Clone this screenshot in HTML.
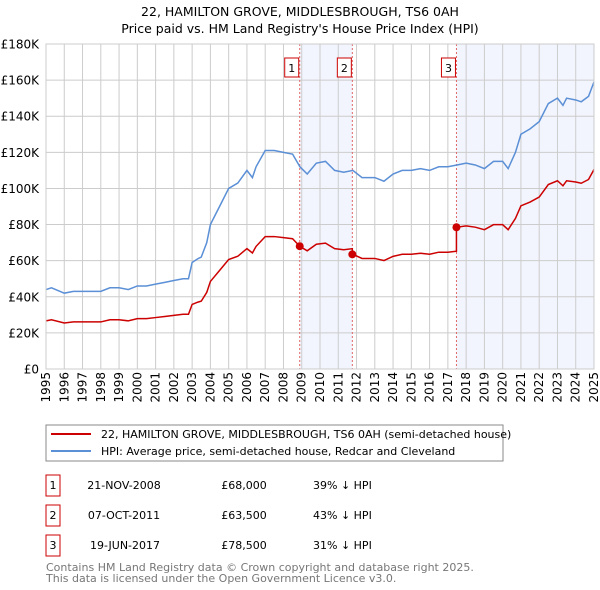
<!DOCTYPE html>
<html><head><meta charset="utf-8"><style>
body{margin:0;background:#fff;font-family:"Liberation Sans","DejaVu Sans",sans-serif;}
svg{display:block}
</style></head><body>
<svg width="600" height="590" xmlns="http://www.w3.org/2000/svg" font-family="'DejaVu Sans','Liberation Sans',sans-serif">
<text x="300" y="16" text-anchor="middle" font-size="12.5">22, HAMILTON GROVE, MIDDLESBROUGH, TS6 0AH</text>
<text x="300" y="33" text-anchor="middle" font-size="12.5">Price paid vs. HM Land Registry's House Price Index (HPI)</text>
<g id="plot"></g>
<g>
<rect x="46" y="425" width="457" height="36" fill="#fff" stroke="#888"/>
<line x1="51" y1="434" x2="91" y2="434" stroke="#cc0000" stroke-width="2"/>
<text x="101" y="438" font-size="11">22, HAMILTON GROVE, MIDDLESBROUGH, TS6 0AH (semi-detached house)</text>
<line x1="51" y1="451" x2="91" y2="451" stroke="#5b8fd6" stroke-width="2"/>
<text x="101" y="455" font-size="11">HPI: Average price, semi-detached house, Redcar and Cleveland</text>
</g>
<g font-size="11">
<rect x="46" y="475" width="14" height="21" fill="none" stroke="#cc0000"/><text x="53" y="489" text-anchor="middle">1</text>
<text x="124" y="489" text-anchor="middle">21-NOV-2008</text><text x="244" y="489" text-anchor="middle">£68,000</text><text x="313" y="489">39% ↓ HPI</text>
<rect x="46" y="505" width="14" height="21" fill="none" stroke="#cc0000"/><text x="53" y="519" text-anchor="middle">2</text>
<text x="124" y="519" text-anchor="middle">07-OCT-2011</text><text x="244" y="519" text-anchor="middle">£63,500</text><text x="313" y="519">43% ↓ HPI</text>
<rect x="46" y="535" width="14" height="21" fill="none" stroke="#cc0000"/><text x="53" y="549" text-anchor="middle">3</text>
<text x="125" y="549" text-anchor="middle">19-JUN-2017</text><text x="244" y="549" text-anchor="middle">£78,500</text><text x="313" y="549">31% ↓ HPI</text>
</g>
<text x="46" y="571" font-size="11" fill="#777">Contains HM Land Registry data © Crown copyright and database right 2025.</text>
<text x="46" y="582" font-size="11" fill="#777">This data is licensed under the Open Government Licence v3.0.</text>
</svg>
<script>
const hpiYears=[1995,1995.3,1996,1996.5,1997,1997.5,1998,1998.5,1999,1999.5,2000,2000.5,2001,2001.5,2002,2002.5,2002.8,2003,2003.3,2003.5,2003.8,2004,2004.5,2005,2005.5,2006,2006.3,2006.5,2007,2007.5,2008,2008.5,2008.9,2009.3,2009.8,2010.3,2010.8,2011.3,2011.8,2012.3,2013,2013.5,2014,2014.5,2015,2015.5,2016,2016.5,2017,2017.5,2018,2018.5,2019,2019.5,2020,2020.3,2020.7,2021,2021.5,2022,2022.5,2023,2023.3,2023.5,2024,2024.3,2024.7,2025];
const hpiValues=[44,45,42,43,43,43,43,45,45,44,46,46,47,48,49,50,50,59,61,62,70,80,90,100,103,110,106,112,121,121,120,119,112,108,114,115,110,109,110,106,106,104,108,110,110,111,110,112,112,113,114,113,111,115,115,111,120,130,133,137,147,150,146,150,149,148,151,159];
const saleYears=[2008.89,2011.77,2017.47];
const salePrices=[68,63.5,78.5];
const saleLabels=["1","2","3"];
const yTicks=[0,20,40,60,80,100,120,140,160,180];
const yTickLabels=["£0","£20K","£40K","£60K","£80K","£100K","£120K","£140K","£160K","£180K"];
const xTicks=[1995,1996,1997,1998,1999,2000,2001,2002,2003,2004,2005,2006,2007,2008,2009,2010,2011,2012,2013,2014,2015,2016,2017,2018,2019,2020,2021,2022,2023,2024,2025];

const L=46,R=594,T=44,B=369;
const x=v=>L+(v-1995)/30*(R-L);
const y=v=>B-v/180*(B-T);
const NS="http://www.w3.org/2000/svg";
const g=document.getElementById('plot');
function mk(t,a){const e=document.createElementNS(NS,t);for(const k in a)e.setAttribute(k,a[k]);g.appendChild(e);return e;}
function hpiAt(yr){for(let i=0;i<hpiYears.length-1;i++){if(yr<=hpiYears[i+1]){const f=(yr-hpiYears[i])/(hpiYears[i+1]-hpiYears[i]);return hpiValues[i]+f*(hpiValues[i+1]-hpiValues[i]);}}return hpiValues[hpiValues.length-1];}
const sh1=mk('rect',{x:x(saleYears[0]),y:T,width:x(saleYears[1])-x(saleYears[0]),height:B-T,fill:'#f2f5fd'});


const sh2=mk('rect',{x:x(saleYears[2]),y:T,width:R-x(saleYears[2]),height:B-T,fill:'#f2f5fd'});


xTicks.forEach(v=>{const l=mk('line',{x1:x(v),x2:x(v),y1:T,y2:B,stroke:'#ccc'});


const t=mk('text',{x:0,y:0,transform:`translate(${x(v)+4},372) rotate(-90)`,'text-anchor':'end','font-size':'12'});t.textContent=v;

});
yTicks.forEach((v,i)=>{const l=mk('line',{x1:L,x2:R,y1:y(v),y2:y(v),stroke:'#ccc'});


const t=mk('text',{x:39,y:y(v)+4.5,'text-anchor':'end','font-size':'12'});t.textContent=yTickLabels[i];

});
saleYears.forEach((s,i)=>{const l=mk('line',{x1:x(s),x2:x(s),y1:T,y2:B,stroke:'#e06666','stroke-dasharray':'2,2'});


const r=mk('rect',{x:x(s)-15,y:58,width:14,height:19,fill:'#fff',stroke:'#cc0000'});


const t=mk('text',{x:x(s)-8,y:72,'text-anchor':'middle','font-size':'11'});t.textContent=saleLabels[i];

});
const hp=mk('polyline',{points:hpiYears.map((v,i)=>x(v)+','+y(hpiValues[i])).join(' '),fill:'none',stroke:'#5b8fd6','stroke-width':1.5});


const pts=[];
hpiYears.forEach((v,i)=>{let k=0;for(let j=0;j<saleYears.length;j++)if(v>=saleYears[j])k=j;
const ratio=salePrices[k]/hpiAt(saleYears[k]);
if(saleYears.includes(v))return;
pts.push([v,hpiValues[i]*ratio]);});
saleYears.forEach((s,j)=>{if(j>0)pts.push([s-0.001,hpiAt(s)*salePrices[j-1]/hpiAt(saleYears[j-1])]);pts.push([s,salePrices[j]]);});
pts.sort((a,b)=>a[0]-b[0]);
const pl=mk('polyline',{points:pts.map(p=>x(p[0])+','+y(p[1])).join(' '),fill:'none',stroke:'#cc0000','stroke-width':1.5});


saleYears.forEach((s,i)=>{const c=mk('circle',{cx:x(s),cy:y(salePrices[i]),r:4,fill:'#cc0000'});

});
const fr=mk('rect',{x:L,y:T,width:R-L,height:B-T,fill:'none',stroke:'#ccc'});


</script>
</body></html>
